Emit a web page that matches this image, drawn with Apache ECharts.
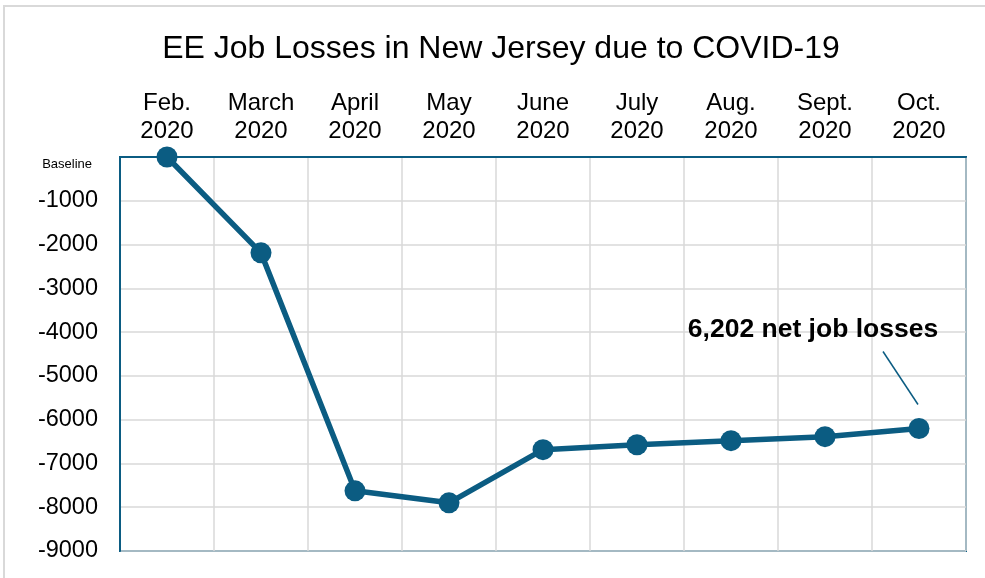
<!DOCTYPE html>
<html>
<head>
<meta charset="utf-8">
<script src="https://cdn.jsdelivr.net/npm/echarts@6/dist/echarts.min.js"></script>
<style>
html,body{margin:0;padding:0;background:#fff;}
#chart{width:985px;height:578px;}
</style>
</head>
<body>
<div id="chart"></div>
<script>
const titleText = 'EE Job Losses in New Jersey due to COVID-19';
const categories = ['Feb.\n2020', 'March\n2020', 'April\n2020', 'May\n2020', 'June\n2020', 'July\n2020', 'Aug.\n2020', 'Sept.\n2020', 'Oct.\n2020'];
const jobChange = [0, -2190, -7625, -7900, -6686, -6572, -6480, -6389, -6202];
const yTicks = { min: -9000, max: 0, interval: 1000 };
const baselineLabel = 'Baseline';
const annotationText = '6,202 net job losses';

const BLUE = '#0b5c82';
const GRID = '#d9d9d9';
const FONT = '"Liberation Sans", Arial, sans-serif';

const chart = echarts.init(document.getElementById('chart'), null, { renderer: 'canvas' });

chart.setOption({
  backgroundColor: '#fff',
  animation: false,
  title: {
    text: titleText,
    left: 496,
    top: 26,
    textAlign: 'center',
    textStyle: { fontFamily: FONT, fontSize: 32, fontWeight: 'normal', color: '#000', lineHeight: 37 }
  },
  grid: {
    left: 120, right: 19, top: 157, bottom: 27,
    show: true, borderColor: BLUE, borderWidth: 2, backgroundColor: 'transparent'
  },
  xAxis: {
    type: 'category',
    position: 'top',
    data: categories,
    boundaryGap: true,
    axisLine: { show: true, lineStyle: { color: BLUE, width: 2 } },
    axisTick: { show: false },
    axisLabel: { fontFamily: FONT, fontSize: 24, color: '#000', lineHeight: 28, margin: 12, interval: 0 },
    splitLine: { show: true, interval: 0, lineStyle: { color: GRID, width: 1.5 } }
  },
  yAxis: {
    type: 'value',
    min: yTicks.min, max: yTicks.max, interval: yTicks.interval,
    axisLine: { show: true, lineStyle: { color: BLUE, width: 2 } },
    axisTick: { show: false },
    axisLabel: {
      fontFamily: FONT, fontSize: 23.5, color: '#000', margin: 22,
      formatter: function (v) { return v === 0 ? '{b|' + baselineLabel + '}' : String(v); },
      rich: { b: { fontFamily: FONT, fontSize: 13, color: '#000', padding: [14, 6, 0, 0] } }
    },
    splitLine: { show: true, lineStyle: { color: GRID, width: 1.5 } }
  },
  series: [{
    type: 'line',
    data: jobChange,
    symbol: 'circle',
    symbolSize: 21,
    lineStyle: { color: BLUE, width: 5.5 },
    itemStyle: { color: BLUE },
    z: 5
  }]
});

const last = jobChange.length - 1;
const p = chart.convertToPixel({ seriesIndex: 0 }, [last, jobChange[last]]);
chart.setOption({
  graphic: [
    {
      type: 'rect', silent: true, z: 0,
      shape: { x: 4, y: 6, width: 1000, height: 600 },
      style: { fill: null, stroke: GRID, lineWidth: 2 }
    },
    {
      type: 'text', silent: true, z: 10,
      x: p[0] - 106, y: p[1] - 99,
      style: { text: annotationText, fontFamily: FONT, fontSize: 26.5, fontWeight: 'bold', fill: '#000', align: 'center', verticalAlign: 'middle' }
    },
    {
      type: 'line', silent: true, z: 10,
      shape: { x1: p[0] - 36, y1: p[1] - 77, x2: p[0] - 1, y2: p[1] - 24 },
      style: { stroke: BLUE, lineWidth: 1.5 }
    }
  ]
});
</script>
</body>
</html>
